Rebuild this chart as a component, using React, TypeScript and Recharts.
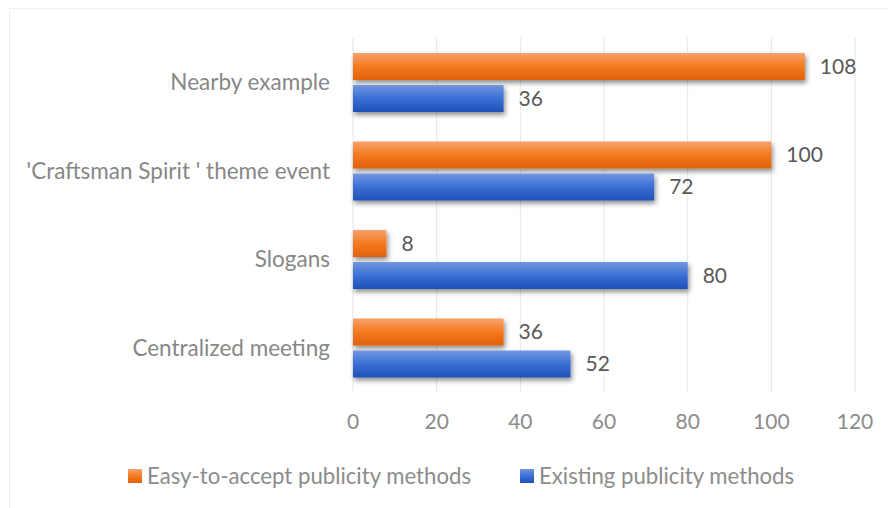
import React from 'react';
import { BarChart, Bar, XAxis, YAxis, CartesianGrid, Legend, LabelList } from 'recharts';

const categories = [
  'Nearby example',
  "'Craftsman Spirit ' theme event",
  'Slogans',
  'Centralized meeting',
];
const easyToAccept = [108, 100, 8, 36];
const existing = [36, 72, 80, 52];
const xTicks = [0, 20, 40, 60, 80, 100, 120];

const data = categories.map((name, i) => ({
  name,
  easy: easyToAccept[i],
  existing: existing[i],
}));

const FONT = 'Lato, "Open Sans", sans-serif';

const ShadowBar = (fillId: string) => (props: any) => {
  const { x, y, width, height } = props;
  if (!width || width <= 0) return null;
  return (
    <rect
      x={x}
      y={y}
      width={width}
      height={height}
      fill={`url(#${fillId})`}
      filter="url(#barShadow)"
    />
  );
};

const LegendContent = () => (
  <div style={{ position: 'relative', width: 888, height: 30, fontFamily: FONT, fontSize: 22.2, color: '#8c8c8c' }}>
    <div style={{ position: 'absolute', left: 128, top: 1, display: 'flex', alignItems: 'center', whiteSpace: 'nowrap' }}>
      <span style={{ display: 'inline-block', width: 14, height: 14, marginRight: 5, background: 'linear-gradient(#f7a36c, #f47a1f 50%, #e1600a)' }} />
      Easy-to-accept publicity methods
    </div>
    <div style={{ position: 'absolute', left: 520, top: 1, display: 'flex', alignItems: 'center', whiteSpace: 'nowrap' }}>
      <span style={{ display: 'inline-block', width: 14, height: 14, marginRight: 5, background: 'linear-gradient(#7397de, #3a6fd6 50%, #2050b6)' }} />
      Existing publicity methods
    </div>
  </div>
);

export default function App() {
  return (
    <div style={{ position: 'absolute', left: 0, top: 0, width: 888, height: 508, background: '#fff' }}>
      <div
        style={{
          position: 'absolute',
          left: 9,
          top: 8,
          right: 0,
          bottom: 0,
          borderLeft: '1px solid #efefef',
          borderTop: '1px solid #efefef',
        }}
      />
      <BarChart
        width={888}
        height={508}
        data={data}
        layout="vertical"
        margin={{ top: 38, right: 33, left: 0, bottom: 17 }}
        barSize={27}
        barGap={5}
        style={{ position: 'absolute', left: 0, top: 0 }}
      >
        <defs>
          <linearGradient id="orangeGrad" x1="0" y1="0" x2="0" y2="1">
            <stop offset="0%" stopColor="#f7a36c" />
            <stop offset="50%" stopColor="#f47a1f" />
            <stop offset="100%" stopColor="#e1600a" />
          </linearGradient>
          <linearGradient id="blueGrad" x1="0" y1="0" x2="0" y2="1">
            <stop offset="0%" stopColor="#7397de" />
            <stop offset="50%" stopColor="#3a6fd6" />
            <stop offset="100%" stopColor="#2050b6" />
          </linearGradient>
          <filter id="barShadow" x="-10%" y="-30%" width="130%" height="180%">
            <feDropShadow dx="1.5" dy="3" stdDeviation="2.5" floodColor="#000" floodOpacity="0.45" />
          </filter>
        </defs>
        <CartesianGrid horizontal={false} stroke="#e6e6e6" />
        <XAxis
          type="number"
          domain={[0, 120]}
          ticks={xTicks}
          height={69}
          axisLine={false}
          tickLine={false}
          tickSize={0}
          tickMargin={22}
          tick={{ fill: '#8c8c8c', fontSize: 21, fontFamily: FONT }}
        />
        <YAxis
          type="category"
          dataKey="name"
          width={353}
          axisLine={false}
          tickLine={false}
          tickSize={0}
          tickMargin={23}
          interval={0}
          tick={{ fill: '#878787', fontSize: 22.5, fontFamily: FONT }}
        />
        <Legend verticalAlign="bottom" height={30} content={<LegendContent />} />
        <Bar dataKey="easy" name="Easy-to-accept publicity methods" isAnimationActive={false} shape={ShadowBar('orangeGrad')}>
          <LabelList dataKey="easy" position="right" offset={15} fill="#595959" fontSize={21} fontFamily={FONT} />
        </Bar>
        <Bar dataKey="existing" name="Existing publicity methods" isAnimationActive={false} shape={ShadowBar('blueGrad')}>
          <LabelList dataKey="existing" position="right" offset={15} fill="#595959" fontSize={21} fontFamily={FONT} />
        </Bar>
      </BarChart>
    </div>
  );
}
